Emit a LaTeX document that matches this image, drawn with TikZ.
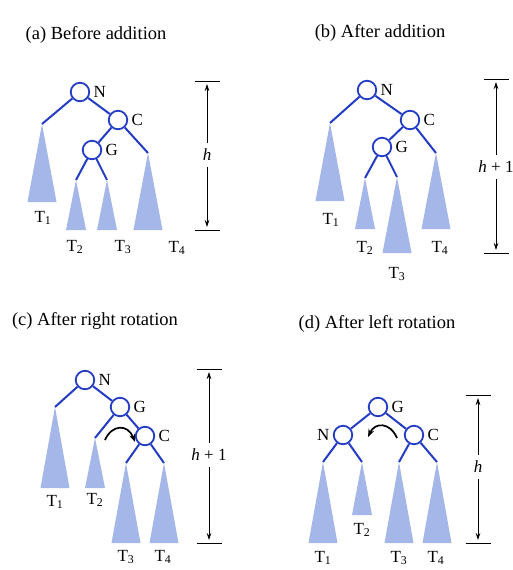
\documentclass[tikz,border=0pt]{standalone}
\usepackage{fontspec}
\setmainfont{Liberation Serif}
\usetikzlibrary{arrows.meta}
\definecolor{treeblue}{RGB}{35,60,195}
\definecolor{subblue}{RGB}{165,182,232}

\tikzset{
  every label/.style={font=\fontsize{17}{17}\selectfont},
  vert/.style={circle, draw=treeblue, line width=1.8pt, minimum size=18.5pt, inner sep=0pt,
    label distance=3.5pt},
  edge/.style={treeblue, line width=2pt},
  subtree/.style={fill=subblue},
  tlabel/.style={font=\fontsize{17}{17}\selectfont},
  title/.style={font=\fontsize{18.5}{20}\selectfont, anchor=base},
  hlabel/.style={font=\fontsize{17}{17}\selectfont, inner sep=6pt},
  harrow/.style={-{Stealth[length=7pt,width=4.5pt]}, line width=0.7pt, shorten >=3pt},
  hbar/.style={line width=0.8pt},
  rot/.style={-{Stealth[length=8pt,width=6pt]}, line width=1.7pt}
}

% subtree triangle: apex, half base, height
\newcommand\subtri[3]{\fill[subtree] (#1) -- ++(-#2,#3) -- ++({2*#2},0) -- cycle;}
% height marker: label node, top and bottom
\newcommand\hmark[3]{%
  \draw[harrow] (#1) -- (#2);
  \draw[harrow] (#1) -- (#3);
  \draw[hbar] ([xshift=-12.5pt]#2) -- ([xshift=12.5pt]#2);
  \draw[hbar] ([xshift=-12.5pt]#3) -- ([xshift=12.5pt]#3);}

\begin{document}
\begin{tikzpicture}[x=1pt, y=-1pt]
    \useasboundingbox (0,0) rectangle (513,570);

    % (a) before addition
    \node[title] (ta) at (96,39) {(a) Before addition};
    \node[vert, label=right:N] (aN) at (80,92) {};
    \node[vert, label=right:C] (aC) at (118,120) {};
    \node[vert, label=right:G] (aG) at (92,150) {};
    \coordinate (a1) at (42,124);
    \coordinate (a2) at (76,180);
    \coordinate (a3) at (107,180);
    \coordinate (a4) at (148,153);
    \subtri{a1}{14.5}{78}
    \subtri{a2}{10}{50}
    \subtri{a3}{10}{50}
    \subtri{a4}{14.5}{77}
    \draw[edge] (a1) -- (aN) -- (aC) -- (a4) (aC) -- (aG) -- (a2) (aG) -- (a3);
    \node[tlabel] (la1) at (43,218) {T\textsubscript{1}};
    \node[tlabel] (la2) at (75,247) {T\textsubscript{2}};
    \node[tlabel] (la3) at (123,247) {T\textsubscript{3}};
    \node[tlabel] (la4) at (177,248) {T\textsubscript{4}};
    \node[hlabel] (ha) at (207,155) {\textit{h}};
    \coordinate (hatop) at (207,81);
    \coordinate (habot) at (207,230);
    \hmark{ha}{hatop}{habot}

    % (b) after addition
    \node[title] (tb) at (380,37) {(b) After addition};
    \node[vert, label=right:N] (bN) at (367,90) {};
    \node[vert, label=right:C] (bC) at (410,120) {};
    \node[vert, label=right:G] (bG) at (382,147) {};
    \coordinate (b1) at (330,123);
    \coordinate (b2) at (365,178);
    \coordinate (b3) at (397,177);
    \coordinate (b4) at (436,153);
    \subtri{b1}{14.5}{78}
    \subtri{b2}{10}{51}
    \subtri{b3}{14.5}{76}
    \subtri{b4}{14.5}{76}
    \draw[edge] (b1) -- (bN) -- (bC) -- (b4) (bC) -- (bG) -- (b2) (bG) -- (b3);
    \node[tlabel] (lb1) at (331,220) {T\textsubscript{1}};
    \node[tlabel] (lb2) at (365,248) {T\textsubscript{2}};
    \node[tlabel] (lb3) at (397,274) {T\textsubscript{3}};
    \node[tlabel] (lb4) at (440,248) {T\textsubscript{4}};
    \node[hlabel] (hb) at (496,167) {\textit{h} + 1};
    \coordinate (hbtop) at (496,79);
    \coordinate (hbbot) at (496,253);
    \hmark{hb}{hbtop}{hbbot}

    % (c) after right rotation
    \node[title] (tc) at (95,325) {(c) After right rotation};
    \node[vert, label=right:N] (cN) at (85,380) {};
    \node[vert, label=right:G] (cG) at (120,407) {};
    \node[vert, label=right:C] (cC) at (145,436) {};
    \coordinate (c1) at (55,407);
    \coordinate (c2) at (95,438);
    \coordinate (c3) at (126,463);
    \coordinate (c4) at (164,463);
    \subtri{c1}{14.5}{81}
    \subtri{c2}{10}{50}
    \subtri{c3}{14.5}{80}
    \subtri{c4}{14.5}{80}
    \draw[edge] (c1) -- (cN) -- (cG) -- (cC) -- (c4) (cG) -- (c2) (cC) -- (c3);
    \draw[rot] (105,440) .. controls (112,424) and (128,424) .. (135,442);
    \node[tlabel] (lc1) at (55,502) {T\textsubscript{1}};
    \node[tlabel] (lc2) at (95,500) {T\textsubscript{2}};
    \node[tlabel] (lc3) at (126,557) {T\textsubscript{3}};
    \node[tlabel] (lc4) at (163,557) {T\textsubscript{4}};
    \node[hlabel] (hc) at (209,455) {\textit{h} + 1};
    \coordinate (hctop) at (209,369);
    \coordinate (hcbot) at (209,543);
    \hmark{hc}{hctop}{hcbot}

    % (d) after left rotation
    \node[title] (td) at (377,328) {(d) After left rotation};
    \node[vert, label=right:G] (dG) at (378,407) {};
    \node[vert, label=left:N] (dN) at (343,435) {};
    \node[vert, label=right:C] (dC) at (414,435) {};
    \coordinate (d1) at (323,462);
    \coordinate (d2) at (362,462);
    \coordinate (d3) at (399,462);
    \coordinate (d4) at (437,462);
    \subtri{d1}{14.5}{81}
    \subtri{d2}{10}{53}
    \subtri{d3}{14.5}{81}
    \subtri{d4}{14.5}{81}
    \draw[edge] (d1) -- (dN) -- (dG) -- (dC) -- (d4) (dN) -- (d2) (dC) -- (d3);
    \draw[rot] (397,438) .. controls (390,422) and (375,422) .. (368,437);
    \node[tlabel] (ld1) at (323,558) {T\textsubscript{1}};
    \node[tlabel] (ld2) at (362,530) {T\textsubscript{2}};
    \node[tlabel] (ld3) at (399,558) {T\textsubscript{3}};
    \node[tlabel] (ld4) at (436,558) {T\textsubscript{4}};
    \node[hlabel] (hd) at (478,467) {\textit{h}};
    \coordinate (hdtop) at (478,395);
    \coordinate (hdbot) at (478,543);
    \hmark{hd}{hdtop}{hdbot}
\end{tikzpicture}
\end{document}
